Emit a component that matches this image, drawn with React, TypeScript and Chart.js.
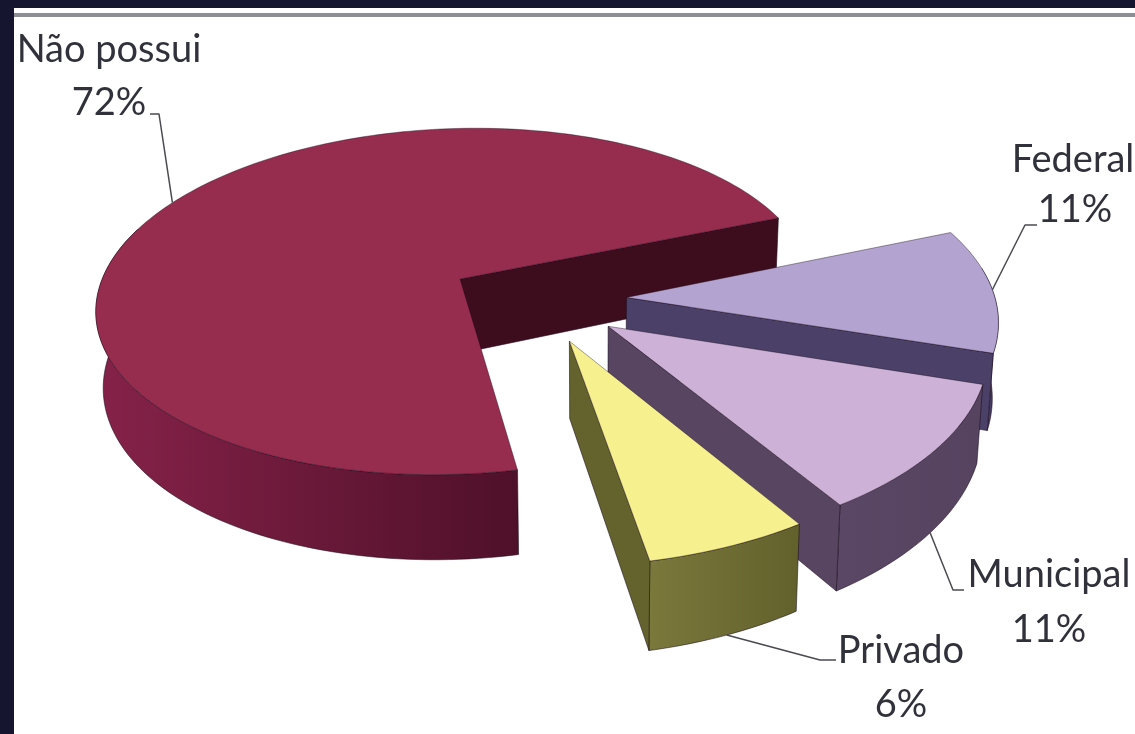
import React, { useEffect, useRef } from "react";
import { Chart, registerables } from "chart.js";

Chart.register(...registerables);

// Slice values, in drawing order (back to front)
const categories = ["Não possui", "Federal", "Municipal", "Privado"];
const shares = [72, 11, 11, 6];

// Slice colours
const topColors = ["#962c4e", "#b3a3d1", "#cdb1d6", "#f7f08e"];
const cutColors = ["#3d0d1d", "#4a4068", "#574562", "#64632e"];
const wallLightColors = ["#862249", "#4a4068", "#5a4765", "#7a783b"];
const wallDarkColors = ["#4f1029", "#423860", "#554360", "#62612c"];

const FRAME = "#15152f";
const RULE = "#8d8d95";
const TEXT = "#31313b";
const FONT = '38px Lato, "Open Sans", sans-serif';

// Tilted-disc camera: maps a point of the unit pie plane to the canvas
const VIEW = { cx: 460, cy: 279, a: 353, b: -42.6, c: 10.6, d: 170, g: 0.13, ox: 0.2275, oy: 0.104, depth: 74, vanishX: 590, lean: 0.015 };

// Exploded wedges sit nearer the camera and read slightly larger
const rimScale = [1, 1.04, 1.04, 1.04];

function project(u: number, v: number, z = 0): [number, number] {
  const uo = u + VIEW.ox;
  const vo = v + VIEW.oy;
  const w = 1 - VIEW.g * vo;
  const x = VIEW.cx + (VIEW.a * uo + VIEW.b * vo) / w;
  const y = VIEW.cy + (VIEW.c * uo + VIEW.d * vo) / w;
  return [x + (VIEW.vanishX - x) * VIEW.lean * z, y + (z * VIEW.depth) / w];
}

// Callout placement: leader elbow and text blocks, one entry per slice
const callouts = [
  { rimDepth: 0, elbow: [[159, 114], [150, 114]], name: [109, 62], pct: [109, 115] },
  { rimDepth: 0, elbow: [[1025, 225], [1037, 225]], name: [1073, 172], pct: [1075, 222] },
  { rimDepth: 1, elbow: [[953, 590], [964, 590]], name: [1049, 587], pct: [1049, 642] },
  { rimDepth: 1, elbow: [[820, 660], [836, 660]], name: [901, 663], pct: [901, 717] },
];

const pie3d = {
  id: "pie3d",
  beforeDatasetsDraw(chart: any) {
    const ctx: CanvasRenderingContext2D = chart.ctx;
    const arcs = chart.getDatasetMeta(0).data;

    arcs.forEach((arc: any, i: number) => {
      const { startAngle: s, endAngle: e, outerRadius: R } = arc;
      const mid = (s + e) / 2;
      const shift = arc.options.offset / 4 / R;
      const du = Math.cos(mid) * shift;
      const dv = Math.sin(mid) * shift;
      const k = rimScale[i];
      const rim = (t: number, z: number) => project(du + k * Math.cos(t), dv + k * Math.sin(t), z);
      const apex = (z: number) => project(du, dv, z);
      const steps = Math.max(12, Math.round((e - s) * 40));
      const angles = Array.from({ length: steps + 1 }, (_, n) => s + ((e - s) * n) / steps);

      const trace = (pts: [number, number][]) => {
        ctx.beginPath();
        pts.forEach(([x, y], n) => (n ? ctx.lineTo(x, y) : ctx.moveTo(x, y)));
        ctx.closePath();
      };

      ctx.lineJoin = "round";
      ctx.lineWidth = 1;
      ctx.strokeStyle = "rgba(25,10,25,0.55)";

      // outer wall, shaded across its front-facing span
      const facing = angles.filter((t) => Math.sin(t) > -0.25);
      const front = facing.map((t) => rim(t, 0)[0]);
      const x0 = Math.min(...front);
      const x1 = Math.max(...front);
      const shade = ctx.createLinearGradient(x0, 0, Math.max(x1, x0 + 1), 0);
      shade.addColorStop(0, wallLightColors[i]);
      shade.addColorStop(1, wallDarkColors[i]);
      trace([...facing.map((t) => rim(t, 0)), ...facing.slice().reverse().map((t) => rim(t, 1))]);
      ctx.fillStyle = shade;
      ctx.fill();
      ctx.stroke();

      // cut face along the slice's closing radius
      trace([apex(0), rim(e, 0), rim(e, 1), apex(1)]);
      ctx.fillStyle = cutColors[i];
      ctx.fill();
      ctx.stroke();

      // top surface
      trace([apex(0), ...angles.map((t) => rim(t, 0))]);
      ctx.fillStyle = topColors[i];
      ctx.fill();
      ctx.strokeStyle = "rgba(25,10,25,0.4)";
      ctx.stroke();
    });

    // leaders and labels
    ctx.strokeStyle = "#4a4a50";
    ctx.lineWidth = 1.5;
    ctx.fillStyle = TEXT;
    ctx.font = FONT;
    ctx.textAlign = "center";
    ctx.textBaseline = "alphabetic";
    arcs.forEach((arc: any, i: number) => {
      const c = callouts[i];
      const mid = (arc.startAngle + arc.endAngle) / 2;
      const shift = arc.options.offset / 4 / arc.outerRadius;
      const reach = rimScale[i] + shift;
      const [ax, ay] = project(Math.cos(mid) * reach, Math.sin(mid) * reach, c.rimDepth);
      ctx.beginPath();
      ctx.moveTo(ax, ay);
      c.elbow.forEach(([x, y]) => ctx.lineTo(x, y));
      ctx.stroke();
      ctx.fillText(categories[i], c.name[0], c.name[1]);
      ctx.fillText(`${shares[i]}%`, c.pct[0], c.pct[1]);
    });

    // the flat arcs are replaced by the extruded ones above
    return false;
  },
};

export default function App() {
  const canvasRef = useRef<HTMLCanvasElement>(null);

  useEffect(() => {
    const chart = new Chart(canvasRef.current!, {
      type: "pie",
      data: {
        labels: categories,
        datasets: [{ data: shares, backgroundColor: topColors, offset: 240, borderWidth: 0 }],
      },
      options: {
        animation: false,
        responsive: false,
        devicePixelRatio: 1,
        radius: 240,
        rotation: 165,
        plugins: { legend: { display: false }, tooltip: { enabled: false } },
      } as any,
      plugins: [pie3d],
    });
    return () => chart.destroy();
  }, []);

  return (
    <div style={{ position: "fixed", left: 0, top: 0, width: 1135, height: 734, background: FRAME, overflow: "hidden" }}>
      <div style={{ position: "absolute", left: 14, top: 8, width: 1121, height: 726, background: "#ffffff" }} />
      <div style={{ position: "absolute", left: 14, top: 13, width: 1121, height: 4, background: RULE }} />
      <canvas ref={canvasRef} width={1135} height={734} style={{ position: "absolute", left: 0, top: 0, display: "block" }} />
    </div>
  );
}
